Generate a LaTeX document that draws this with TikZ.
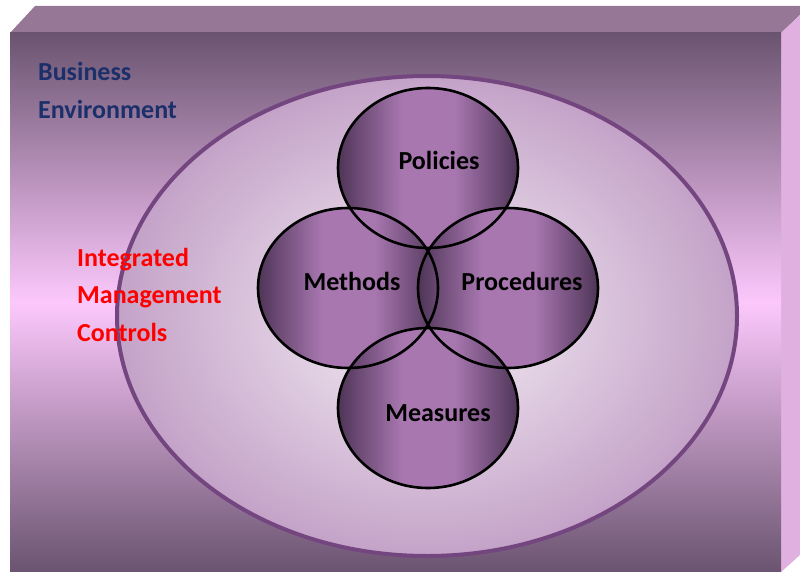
\documentclass[tikz,border=0pt]{standalone}
\usepackage{fontspec}
\setmainfont{Carlito}
\usetikzlibrary{shapes.geometric}
\definecolor{topface}{HTML}{967896}
\definecolor{sideface}{HTML}{E0B0E0}
\definecolor{frontdk}{HTML}{6A5470}
\definecolor{frontpk}{HTML}{FCC8FC}
\definecolor{ellin}{HTML}{F6F1F6}
\definecolor{ellout}{HTML}{C4A2C8}
\definecolor{ellline}{HTML}{74467F}
\definecolor{venndk}{HTML}{4E3456}
\definecolor{vennlt}{HTML}{A877B0}
\definecolor{bizblue}{HTML}{1B2F6B}
\tikzset{
  vennarea/.style={ellipse, minimum width=180pt, minimum height=160pt, inner sep=0pt},
  vennline/.style={draw=black, line width=2.6pt},
  vtext/.style={font=\bfseries\fontsize{26}{30}\selectfont, text=black, anchor=base},
  sidetext/.style={font=\bfseries\fontsize{26}{38}\selectfont, align=left, anchor=base west, inner sep=0pt}
}
\begin{document}
\begin{tikzpicture}[x=1pt, y=-1pt]
\useasboundingbox (0,0) rectangle (800,572);
% box faces
\fill[topface] (10,33) -- (35,6) -- (800,6) -- (800,15) -- (781,33) -- cycle;
\fill[sideface] (781,33) -- (800,15) -- (800,555) -- (781,572) -- cycle;
\shade[top color=frontdk, bottom color=frontdk, middle color=frontpk] (10,33) rectangle (781,572);
% big ellipse
\node[ellipse, minimum width=620pt, minimum height=480pt, inner sep=0pt, inner color=ellin, outer color=ellout] (env) at (427,316) {};
\draw[ellline, line width=4pt] (env.center) ellipse [x radius=310pt, y radius=240pt];
% venn ellipses
\node[vennarea] (pol) at (428,168) {};
\node[vennarea] (met) at (348,288) {};
\node[vennarea] (pro) at (508,288) {};
\node[vennarea] (mea) at (428,408) {};
\foreach \n in {pol,met,pro,mea}{
  \begin{scope}
    \clip (\n.center) ellipse [x radius=90pt, y radius=80pt];
    \shade[left color=venndk, right color=vennlt]
      ([shift={(-91pt,-81pt)}]\n.center) rectangle ([shift={(-26pt,81pt)}]\n.center);
    \fill[vennlt]
      ([shift={(-26.5pt,-81pt)}]\n.center) rectangle ([shift={(26.5pt,81pt)}]\n.center);
    \shade[left color=vennlt, right color=venndk]
      ([shift={(26pt,-81pt)}]\n.center) rectangle ([shift={(91pt,81pt)}]\n.center);
  \end{scope}
}
\foreach \n in {pol,met,pro,mea}
  \draw[vennline] (\n.center) ellipse [x radius=90pt, y radius=80pt];
% labels
\node[vtext] (tpol) at (439,170) {Policies};
\node[vtext] (tmet) at (352,290) {Methods};
\node[vtext] (tpro) at (522,290) {Procedures};
\node[vtext] (tmea) at (438,421) {Measures};
\node[sidetext, text=bizblue] (biz) at (38,119) {Business\\Environment};
\node[sidetext, text=red, font=\bfseries\fontsize{26}{37.5}\selectfont] (imc) at (77,341) {Integrated\\Management\\Controls};
\end{tikzpicture}
\end{document}
